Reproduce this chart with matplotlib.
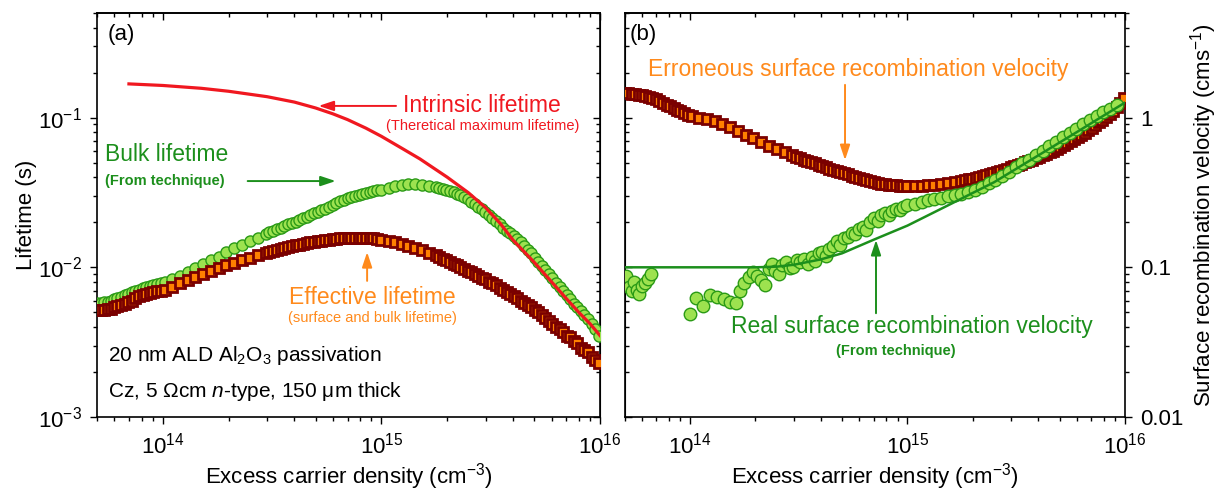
import numpy as np
import matplotlib
matplotlib.use('Agg')
import matplotlib.pyplot as plt
from matplotlib.ticker import LogLocator, NullFormatter

plt.rcParams['font.family'] = ['Liberation Sans', 'DejaVu Sans']
plt.rcParams['mathtext.fontset'] = 'custom'
plt.rcParams['mathtext.rm'] = 'Liberation Sans'
plt.rcParams['mathtext.it'] = 'Liberation Sans:italic'
plt.rcParams['mathtext.bf'] = 'Liberation Sans:bold'

# excess carrier density of the measured points (cm^-3)
dn = [5.0e13, 5.2e13, 5.4e13, 5.6e13, 5.8e13, 6.0e13, 6.2e13, 6.45e13, 6.7e13, 6.95e13,
      7.2e13, 7.5e13, 7.8e13, 8.1e13, 8.4e13, 8.7e13, 9.0e13, 9.4e13, 9.8e13,
      1.02e14, 1.1e14, 1.2e14, 1.3e14, 1.41e14, 1.53e14, 1.66e14, 1.8e14, 1.95e14, 2.12e14,
      2.3e14, 2.5e14, 2.72e14, 2.95e14,
      3.07e14, 3.2e14, 3.33e14, 3.46e14, 3.6e14, 3.75e14, 3.9e14, 4.05e14, 4.2e14, 4.37e14,
      4.55e14, 4.73e14, 4.92e14, 5.12e14, 5.32e14, 5.53e14, 5.75e14, 5.98e14, 6.22e14, 6.47e14,
      6.73e14, 7.0e14, 7.28e14, 7.57e14, 7.87e14, 8.18e14, 8.5e14, 8.85e14, 9.2e14, 9.57e14,
      1.0e15, 1.08e15, 1.16e15, 1.24e15, 1.33e15, 1.43e15, 1.54e15, 1.65e15, 1.77e15,
      1.84e15, 1.91e15, 1.98e15, 2.06e15, 2.14e15, 2.22e15, 2.3e15, 2.39e15, 2.48e15, 2.57e15,
      2.67e15, 2.77e15, 2.88e15, 2.99e15, 3.1e15, 3.22e15, 3.34e15, 3.47e15, 3.6e15, 3.74e15,
      3.88e15, 4.03e15, 4.18e15, 4.34e15, 4.5e15, 4.67e15, 4.85e15, 5.03e15, 5.22e15, 5.42e15,
      5.63e15, 5.84e15, 6.06e15, 6.29e15, 6.53e15, 6.78e15, 7.04e15, 7.31e15, 7.59e15, 7.88e15,
      8.18e15, 8.49e15, 8.81e15, 9.15e15, 9.5e15, 9.9e15]

# effective lifetime (s)
tau_eff = [0.0052, 0.0052, 0.0052, 0.0053, 0.0053, 0.0054, 0.0055, 0.0056, 0.0057, 0.0059,
           0.0060, 0.0062, 0.0064, 0.0065, 0.0066, 0.0067, 0.0068, 0.0069, 0.0070,
           0.0071, 0.0074, 0.0078, 0.0082, 0.0086, 0.0090, 0.0095, 0.0099, 0.0103, 0.0107,
           0.0112, 0.0116, 0.0120, 0.0124,
           0.0126, 0.0128, 0.0130, 0.0132, 0.0134, 0.0136, 0.0138, 0.0140, 0.0142, 0.0143,
           0.0145, 0.0147, 0.0148, 0.0150, 0.0151, 0.0152, 0.0153, 0.0154, 0.0155, 0.0156,
           0.0156, 0.0157, 0.0157, 0.0158, 0.0158, 0.0158, 0.0157, 0.0157, 0.0156, 0.0155,
           0.0153, 0.0150, 0.0147, 0.0143, 0.0139, 0.0135, 0.0130, 0.0125, 0.0120,
           0.0117, 0.0114, 0.0112, 0.0109, 0.0106, 0.0103, 0.0101, 0.0098, 0.0095, 0.0093,
           0.0090, 0.0088, 0.0085, 0.0083, 0.0080, 0.0078, 0.0076, 0.0073, 0.0071, 0.0068,
           0.0066, 0.0064, 0.0062, 0.0060, 0.0058, 0.0056, 0.0054, 0.0052, 0.0050, 0.0048,
           0.0046, 0.0044, 0.0042, 0.0040, 0.0039, 0.0037, 0.0035, 0.0034, 0.0032, 0.0031,
           0.0029, 0.0028, 0.0027, 0.0025, 0.0024, 0.0023]

# bulk lifetime from the technique (s)
tau_bulk = [0.0058, 0.0058, 0.0059, 0.0059, 0.0060, 0.0061, 0.0062, 0.0063, 0.0065, 0.0066,
            0.0068, 0.0070, 0.0071, 0.0073, 0.0074, 0.0075, 0.0076, 0.0077, 0.0078,
            0.0080, 0.0083, 0.0088, 0.0093, 0.0099, 0.0106, 0.0112, 0.0118, 0.0126, 0.0134,
            0.0141, 0.0150, 0.0158, 0.0168,
            0.0172, 0.0176, 0.0181, 0.0184, 0.0190, 0.0194, 0.0199, 0.0202, 0.0208, 0.0212,
            0.0218, 0.0222, 0.0229, 0.0233, 0.0240, 0.0246, 0.0254, 0.0262, 0.0268, 0.0276,
            0.0282, 0.0290, 0.0296, 0.0300, 0.0306, 0.0310, 0.0314, 0.0318, 0.0322, 0.0326,
            0.0330, 0.0338, 0.0350, 0.0356, 0.0360, 0.0360, 0.0357, 0.0352, 0.0345,
            0.0340, 0.0336, 0.0331, 0.0325, 0.0318, 0.0310, 0.0302, 0.0293, 0.0284, 0.0274,
            0.0265, 0.0254, 0.0244, 0.0234, 0.0224, 0.0214, 0.0204, 0.0194, 0.0184, 0.0176,
            0.0170, 0.0163, 0.0155, 0.0147, 0.0139, 0.0131, 0.0124, 0.0116, 0.0109, 0.0102,
            0.0096, 0.0090, 0.0085, 0.0079, 0.0074, 0.0070, 0.0065, 0.0061, 0.0057, 0.0054,
            0.0051, 0.0048, 0.0045, 0.0042, 0.0039, 0.0035]

# erroneous surface recombination velocity (cm/s)
s_err = [1.45, 1.45, 1.44, 1.43, 1.42, 1.41, 1.40, 1.38, 1.36, 1.33,
         1.30, 1.26, 1.22, 1.19, 1.16, 1.13, 1.10, 1.07, 1.04,
         1.02, 1.00, 0.98, 0.95, 0.91, 0.86, 0.82, 0.77, 0.73, 0.69,
         0.65, 0.62, 0.59, 0.56,
         0.545, 0.535, 0.525, 0.515, 0.505, 0.495, 0.485, 0.475, 0.465, 0.455,
         0.447, 0.440, 0.432, 0.424, 0.417, 0.410, 0.403, 0.396, 0.390, 0.384,
         0.378, 0.372, 0.367, 0.363, 0.360, 0.357, 0.355, 0.353, 0.352, 0.351,
         0.350, 0.350, 0.351, 0.353, 0.356, 0.360, 0.366, 0.372, 0.379,
         0.383, 0.388, 0.392, 0.398, 0.403, 0.409, 0.415, 0.421, 0.428, 0.435,
         0.442, 0.449, 0.457, 0.465, 0.473, 0.482, 0.492, 0.502, 0.512, 0.523,
         0.535, 0.547, 0.560, 0.574, 0.588, 0.603, 0.620, 0.637, 0.655, 0.675,
         0.696, 0.718, 0.742, 0.767, 0.795, 0.825, 0.857, 0.892, 0.930, 0.970,
         1.01, 1.06, 1.11, 1.17, 1.26, 1.36]

# intrinsic lifetime curve
dn_intr = [7e13, 1e14, 1.5e14, 2e14, 3e14, 4e14, 5e14, 6e14, 7e14, 8.5e14, 1e15, 1.25e15,
           1.5e15, 2e15, 2.5e15, 3e15, 3.5e15, 4e15, 5e15, 6e15, 7e15, 8e15, 9e15, 1e16]
tau_intr = [0.168, 0.164, 0.157, 0.150, 0.138, 0.127, 0.116, 0.106, 0.097, 0.085, 0.075, 0.062,
            0.053, 0.040, 0.0315, 0.0250, 0.0196, 0.0152, 0.0108, 0.0080, 0.0062, 0.0050,
            0.0042, 0.0035]

# real surface recombination velocity from the technique
dn_sreal = [5.1e13, 5.25e13, 5.4e13, 5.55e13, 5.7e13, 5.85e13, 6.0e13, 6.2e13, 6.4e13, 6.6e13,
            1.0e14, 1.07e14, 1.15e14, 1.24e14, 1.33e14, 1.43e14, 1.53e14, 1.62e14,
            1.7e14, 1.78e14, 1.86e14, 1.94e14, 2.03e14, 2.13e14, 2.22e14, 2.3e14, 2.38e14, 2.46e14,
            2.56e14, 2.66e14, 2.76e14, 2.87e14, 2.98e14, 3.1e14, 3.22e14, 3.35e14, 3.48e14, 3.62e14,
            3.76e14, 3.9e14, 4.05e14, 4.2e14, 4.37e14, 4.55e14, 4.73e14, 4.92e14, 5.12e14, 5.32e14,
            5.53e14, 5.75e14, 5.98e14, 6.22e14, 6.47e14, 6.73e14, 7.0e14, 7.28e14, 7.57e14, 7.87e14,
            8.18e14, 8.5e14, 8.85e14, 9.2e14, 9.57e14, 1.0e15, 1.08e15, 1.16e15, 1.24e15, 1.33e15,
            1.43e15, 1.54e15, 1.65e15, 1.77e15, 1.9e15, 2.04e15, 2.2e15, 2.36e15, 2.53e15, 2.72e15,
            2.92e15, 3.14e15, 3.37e15, 3.62e15, 3.89e15, 4.18e15, 4.49e15, 4.82e15, 5.18e15, 5.56e15,
            5.97e15, 6.41e15, 6.89e15, 7.4e15, 7.95e15, 8.54e15, 9.17e15]
s_real = [0.088, 0.074, 0.069, 0.080, 0.071, 0.066, 0.075, 0.079, 0.083, 0.090,
          0.049, 0.062, 0.055, 0.065, 0.063, 0.061, 0.059, 0.058,
          0.070, 0.078, 0.086, 0.093, 0.088, 0.082, 0.076, 0.098, 0.106, 0.094,
          0.090, 0.104, 0.108, 0.099, 0.101, 0.112, 0.108, 0.114, 0.106, 0.118,
          0.110, 0.124, 0.126, 0.119, 0.132, 0.138, 0.150, 0.142, 0.156, 0.160,
          0.170, 0.166, 0.180, 0.186, 0.178, 0.200, 0.212, 0.205, 0.224, 0.230,
          0.222, 0.238, 0.244, 0.240, 0.252, 0.260, 0.265, 0.272, 0.280, 0.287,
          0.292, 0.298, 0.303, 0.310, 0.318, 0.328, 0.345, 0.365, 0.385, 0.408,
          0.435, 0.465, 0.495, 0.525, 0.560, 0.600, 0.645, 0.690, 0.740, 0.790,
          0.845, 0.900, 0.960, 1.020, 1.085, 1.150, 1.220]

# model line for the real surface recombination velocity
dn_sfit = [5e13, 1e14, 2e14, 2.5e14, 3e14, 4e14, 5e14, 7e14, 1e15, 1.5e15, 2.5e15,
           4e15, 6e15, 7.7e15, 1e16]
s_fit = [0.1, 0.1, 0.1, 0.101, 0.104, 0.113, 0.124, 0.153, 0.19, 0.255, 0.37,
         0.56, 0.80, 1.0, 1.26]

RED = '#f01820'
GREEN = '#1c8f1c'
ORANGE = '#ff8a1c'
SQ_FACE = '#ff8000'
SQ_EDGE = '#7a0000'
C_FACE = '#9de24f'
C_EDGE = '#2a9a16'

W, H = 1222, 494
fig = plt.figure(figsize=(W / 100, H / 100), dpi=100)
ax1 = fig.add_axes([97 / W, 77 / H, 503 / W, 404 / H])
ax2 = fig.add_axes([624.5 / W, 77 / H, 500.5 / W, 404 / H])


def set_ticks(a, direction, sides):
    a.tick_params(which='both', direction=direction, labelsize=16, width=1.0, pad=6, **sides)
    a.tick_params(which='major', length=5)
    a.tick_params(which='minor', length=3)


def frame(ax, ylim):
    ax.set_xscale('log')
    ax.set_yscale('log')
    ax.set_xlim(5e13, 1e16)
    ax.set_ylim(*ylim)
    for s in ax.spines.values():
        s.set_linewidth(1.2)
    ax.xaxis.set_minor_locator(LogLocator(subs=np.arange(2, 10)))
    ax.xaxis.set_minor_formatter(NullFormatter())
    ax.yaxis.set_minor_locator(LogLocator(subs=np.arange(2, 10)))
    ax.yaxis.set_minor_formatter(NullFormatter())
    top = ax.secondary_xaxis('top')
    top.xaxis.set_minor_locator(LogLocator(subs=np.arange(2, 10)))
    set_ticks(top, 'in', dict(labeltop=False))
    top.spines['top'].set_linewidth(1.2)
    ax.set_xlabel('Excess carrier density (cm$^{-3}$)', fontsize=16)
    ax.xaxis.set_label_coords(0.5, -0.11)


# ---- panel (a)
frame(ax1, (1e-3, 0.5))
set_ticks(ax1, 'out', dict(right=False, top=False))
right = ax1.secondary_yaxis('right')
right.yaxis.set_minor_locator(LogLocator(subs=np.arange(2, 10)))
set_ticks(right, 'in', dict(labelright=False))
ax1.set_ylabel('Lifetime (s)', fontsize=16)
ax1.yaxis.label.set_va('center')
ax1.yaxis.set_label_coords(-0.141, 0.5)

ax1.plot(dn, tau_bulk, 'o', ms=8, mfc=C_FACE, mec=C_EDGE, mew=1.0, zorder=3)
ax1.plot(dn, tau_eff, 's', ms=7, mfc=SQ_FACE, mec=SQ_EDGE, mew=2.0, zorder=4)
ax1.plot(dn_intr, tau_intr, '-', color=RED, lw=2.3, zorder=5)

t = ax1.transAxes
ax1.text(0.022, 0.948, '(a)', fontsize=16, transform=t, va='center')
ax1.text(0.766, 0.770, 'Intrinsic lifetime', fontsize=16.5, color=RED, transform=t,
         ha='center', va='center')
ax1.text(0.766, 0.720, '(Theretical maximum lifetime)', fontsize=10.5, color=RED,
         transform=t, ha='center', va='center')
ax1.annotate('', xy=(0.435, 0.770), xytext=(0.600, 0.770), xycoords=t,
             arrowprops=dict(arrowstyle='-|>,head_width=0.3,head_length=0.9', color=RED, lw=1.4))
ax1.text(0.015, 0.650, 'Bulk lifetime', fontsize=16.5, color=GREEN, transform=t, va='center')
ax1.text(0.015, 0.584, '(From technique)', fontsize=10.5, color=GREEN, fontweight='bold',
         transform=t, va='center')
ax1.annotate('', xy=(0.480, 0.584), xytext=(0.294, 0.584), xycoords=t,
             arrowprops=dict(arrowstyle='-|>,head_width=0.3,head_length=0.9', color=GREEN, lw=1.4))
ax1.text(0.548, 0.295, 'Effective lifetime', fontsize=16.5, color=ORANGE, transform=t,
         ha='center', va='center')
ax1.text(0.548, 0.245, '(surface and bulk lifetime)', fontsize=10.5, color=ORANGE,
         transform=t, ha='center', va='center')
ax1.annotate('', xy=(0.537, 0.415), xytext=(0.537, 0.330), xycoords=t,
             arrowprops=dict(arrowstyle='-|>,head_width=0.3,head_length=0.9', color=ORANGE, lw=1.4))
ax1.text(0.022, 0.151, '20 nm ALD Al$_2$O$_3$ passivation', fontsize=15, transform=t, va='center')
ax1.text(0.022, 0.062, 'Cz, 5 Ωcm $\\mathit{n}$-type, 150 μm thick', fontsize=15,
         transform=t, va='center')

# ---- panel (b)
frame(ax2, (0.01, 5))
ax2.yaxis.tick_right()
set_ticks(ax2, 'out', dict(left=False, top=False, labelleft=False, right=True, labelright=True))
ax2.set_yticks([0.01, 0.1, 1], labels=['0.01', '0.1', '1'])
left = ax2.secondary_yaxis('left')
left.yaxis.set_minor_locator(LogLocator(subs=np.arange(2, 10)))
set_ticks(left, 'in', dict(labelleft=False))
ax2.set_ylabel('Surface recombination velocity (cms$^{-1}$)', fontsize=16)
ax2.yaxis.set_label_position('right')
ax2.yaxis.label.set_va('center')
ax2.yaxis.set_label_coords(1.156, 0.5)

ax2.plot(dn, s_err, 's', ms=7, mfc=SQ_FACE, mec=SQ_EDGE, mew=2.0, zorder=3)
ax2.plot(dn_sreal, s_real, 'o', ms=9, mfc=C_FACE, mec=C_EDGE, mew=1.0, zorder=4)
ax2.plot(dn_sfit, s_fit, '-', color=GREEN, lw=1.8, zorder=5)

t = ax2.transAxes
ax2.text(0.010, 0.948, '(b)', fontsize=16, transform=t, va='center')
ax2.text(0.4675, 0.859, 'Erroneous surface recombination velocity', fontsize=16.5,
         color=ORANGE, transform=t, ha='center', va='center')
ax2.annotate('', xy=(0.4406, 0.629), xytext=(0.4406, 0.829), xycoords=t,
             arrowprops=dict(arrowstyle='-|>,head_width=0.3,head_length=0.9', color=ORANGE, lw=1.4))
ax2.text(0.5734, 0.223, 'Real surface recombination velocity', fontsize=16.5, color=GREEN,
         transform=t, ha='center', va='center')
ax2.text(0.5425, 0.164, '(From technique)', fontsize=10.5, color=GREEN, fontweight='bold',
         transform=t, ha='center', va='center')
ax2.annotate('', xy=(0.5025, 0.445), xytext=(0.5025, 0.250), xycoords=t,
             arrowprops=dict(arrowstyle='-|>,head_width=0.3,head_length=0.9', color=GREEN, lw=1.4))

fig.savefig('out.png', dpi=100)
